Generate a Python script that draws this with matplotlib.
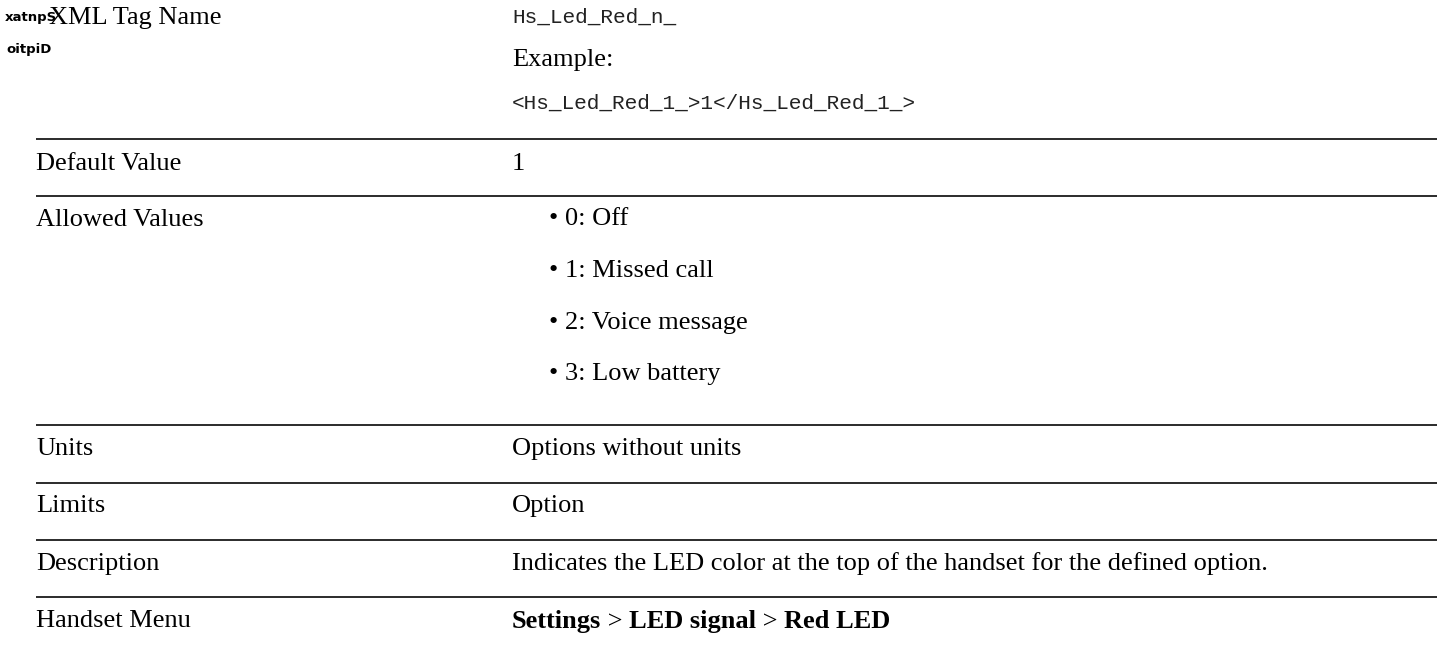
import matplotlib
matplotlib.use("Agg")
import matplotlib.pyplot as plt

W, H = 1440, 653
row_labels = ["Default Value", "Allowed Values", "Units", "Limits", "Description", "Handset Menu"]
tag_name = "Hs_Led_Red_n_"
example_label = "Example:"
example_code = "<Hs_Led_Red_1_>1</Hs_Led_Red_1_>"
default_value = "1"
allowed_values = ["0: Off", "1: Missed call", "2: Voice message", "3: Low battery"]
units_value = "Options without units"
limits_value = "Option"
description_value = "Indicates the LED color at the top of the handset for the defined option."
menu_parts = [("Settings", "bold"), (" > ", "normal"), ("LED signal", "bold"), (" > ", "normal"), ("Red LED", "bold")]

fig = plt.figure(figsize=(W / 100, H / 100), dpi=100)
ax = fig.add_axes([0, 0, 1, 1])
ax.set_xlim(0, W)
ax.set_ylim(H, 0)
ax.axis("off")

serif = "Liberation Serif"
mono = "Liberation Mono"
fs = 19.0
mfs = 15.2
x1, x2 = 36, 512

# garbled overprinted header fragment (as in the reference)
ax.text(5, 17, "xatnpS", fontsize=9.5, fontweight="bold", family="DejaVu Sans",
        va="center", ha="left", color="black")
ax.text(6, 49, "oitpiD", fontsize=9.5, fontweight="bold", family="DejaVu Sans",
        va="center", ha="left", color="black")

ax.text(49, 18, "XML Tag Name", fontsize=fs, family=serif, va="center")
ax.text(x2, 17, tag_name, fontsize=mfs, family=mono, va="center", color="#222")
ax.text(x2, 60, example_label, fontsize=fs, family=serif, va="center")
ax.text(x2, 103, example_code, fontsize=mfs, family=mono, va="center", color="#222")

lines_y = [139, 196, 425, 483, 540, 597]
for y in lines_y:
    ax.plot([x1, 1437], [y, y], color="#1a1a1a", lw=1.3, solid_capstyle="butt")

label_y = [164, 220, 449, 506, 564, 621]
for lab, y in zip(row_labels, label_y):
    ax.text(x1, y, lab, fontsize=fs, family=serif, va="center")

ax.text(x2, 164, default_value, fontsize=fs, family=serif, va="center")
bullet_y = [219, 271, 323, 374]
for v, y in zip(allowed_values, bullet_y):
    ax.text(549, y, "\u2022", fontsize=fs, family=serif, va="center")
    ax.text(565, y, v, fontsize=fs, family=serif, va="center")
ax.text(x2, 449, units_value, fontsize=fs, family=serif, va="center")
ax.text(x2, 506, limits_value, fontsize=fs, family=serif, va="center")
ax.text(x2, 564, description_value, fontsize=fs, family=serif, va="center")

fig.canvas.draw()
r = fig.canvas.get_renderer()
x = x2
for txt, wt in menu_parts:
    t = ax.text(x, 628, txt, fontsize=fs, family=serif, fontweight=wt, va="baseline")
    bb = t.get_window_extent(renderer=r)
    x += bb.width

fig.savefig("out.png", dpi=100)
